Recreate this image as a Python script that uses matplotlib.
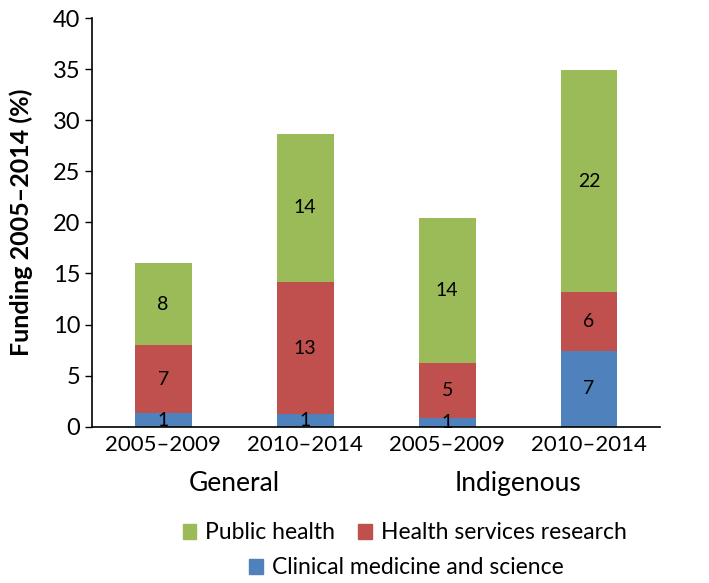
import numpy as np
import matplotlib.pyplot as plt
from matplotlib.patches import Patch
from matplotlib.transforms import blended_transform_factory

plt.rcParams['font.family'] = ['Lato', 'DejaVu Sans']

periods = ['2005–2009', '2010–2014', '2005–2009', '2010–2014']
groups = ['General', 'Indigenous']
clinical = [1.3, 1.2, 0.9, 7.4]
services = [6.7, 13.0, 5.3, 5.8]
public = [8.0, 14.5, 14.2, 21.7]
clinical_lbl = [1, 1, 1, 7]
services_lbl = [7, 13, 5, 6]
public_lbl = [8, 14, 14, 22]

c_green = '#9BBB59'
c_red = '#C0504D'
c_blue = '#4F81BD'

fig = plt.figure(figsize=(7.09, 5.83), dpi=100)
ax = fig.add_axes([0.13, 0.268, 0.801, 0.701])

x = np.arange(len(periods))
w = 0.4
clinical = np.array(clinical)
services = np.array(services)
public = np.array(public)

ax.bar(x, clinical, w, color=c_blue)
ax.bar(x, services, w, bottom=clinical, color=c_red)
ax.bar(x, public, w, bottom=clinical + services, color=c_green)

# segment labels
for lbls, base, vals in [(clinical_lbl, np.zeros(4), clinical),
                         (services_lbl, clinical, services),
                         (public_lbl, clinical + services, public)]:
    for xi, l, b, v in zip(x, lbls, base, vals):
        ax.text(xi, b + v / 2, str(l), ha='center', va='center', fontsize=14)

ax.set_xlim(-0.5, 3.5)
ax.set_ylim(0, 40)
ax.set_yticks(range(0, 41, 5))
ax.set_xticks(x)
ax.set_xticklabels(periods)
ax.tick_params(axis='x', length=0, labelsize=16, pad=6)
ax.tick_params(axis='y', length=5, width=1, labelsize=17, direction='out')
for s in ['top', 'right']:
    ax.spines[s].set_visible(False)
ax.spines['left'].set_linewidth(1.2)
ax.spines['bottom'].set_linewidth(1.2)
ax.set_ylabel('Funding 2005–2014 (%)', fontsize=18, fontweight='bold', labelpad=14)

tr = blended_transform_factory(ax.transData, ax.transAxes)
ax.text(0.5, -0.139, groups[0], transform=tr, ha='center', va='center', fontsize=19)
ax.text(2.5, -0.139, groups[1], transform=tr, ha='center', va='center', fontsize=19)

fig.legend(handles=[Patch(color=c_green, label='Public health'),
                    Patch(color=c_red, label='Health services research')],
           loc='center', bbox_to_anchor=(0.571, 0.086), ncol=2, frameon=False,
           fontsize=16.5, handlelength=0.6, handleheight=0.6, handletextpad=0.4,
           columnspacing=1.0)
fig.legend(handles=[Patch(color=c_blue, label='Clinical medicine and science')],
           loc='center', bbox_to_anchor=(0.573, 0.026), frameon=False,
           fontsize=16.5, handlelength=0.6, handleheight=0.6, handletextpad=0.4)

fig.savefig('out.png', dpi=100)
